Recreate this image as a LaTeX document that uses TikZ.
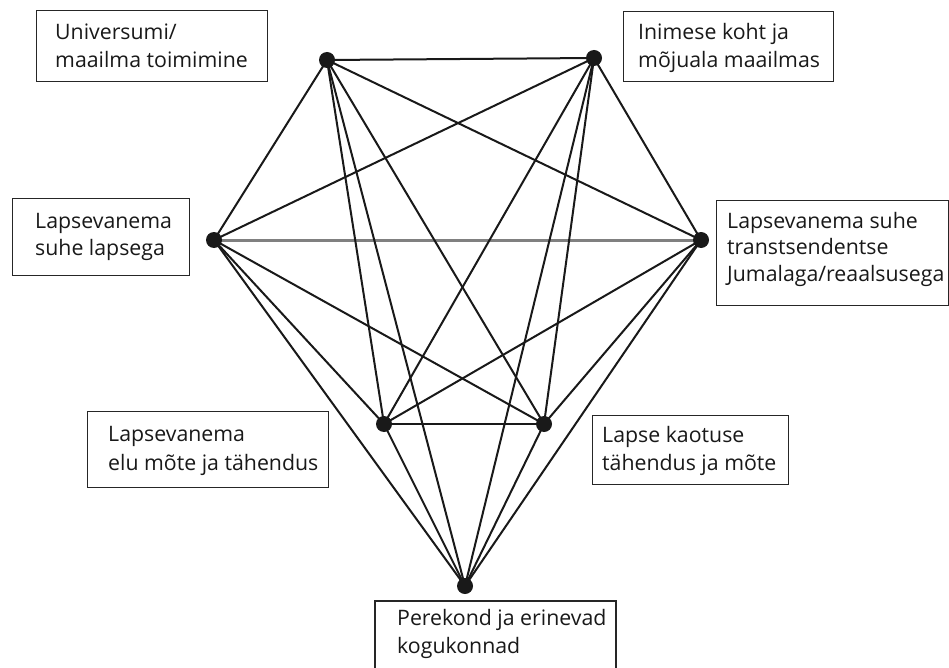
\documentclass[tikz,border=0pt]{standalone}
\usepackage{fontspec}
\setmainfont{Open Sans}
\begin{document}
\begin{tikzpicture}[x=1pt,y=-1pt,
  edge/.style={line width=2pt,black!90},
  grayedge/.style={line width=3pt,black!50},
  dot/.style={circle,fill=black!90,inner sep=0pt,minimum size=16pt},
  boxline/.style={line width=1.4pt,black!85},
  lbl/.style={anchor=base west,align=left,inner sep=0pt,text=black!90,
    font=\fontsize{21.3}{28}\selectfont}]
\useasboundingbox (0,0) rectangle (949,668);
\fill[white] (0,0) rectangle (949,668);
% dot positions
\coordinate (pU) at (327,60);
\coordinate (pI) at (594,58);
\coordinate (pL) at (214,240);
\coordinate (pR) at (701,240);
\coordinate (pE) at (384,424);
\coordinate (pK) at (544,424);
\coordinate (pP) at (465,586);
% boxes
\node[boxline,draw,anchor=north west,minimum width=231pt,minimum height=71pt,inner sep=0pt] (b1) at (36,10) {};
\node[boxline,draw,anchor=north west,minimum width=210pt,minimum height=70pt,inner sep=0pt] (b2) at (623,11) {};
\node[boxline,draw,anchor=north west,minimum width=232pt,minimum height=105pt,inner sep=0pt] (b3) at (716,200) {};
\node[boxline,draw,anchor=north west,minimum width=177pt,minimum height=77pt,inner sep=0pt] (b4) at (12,198) {};
\node[boxline,draw,anchor=north west,minimum width=241pt,minimum height=76pt,inner sep=0pt] (b5) at (87,411) {};
\node[boxline,draw,anchor=north west,minimum width=196pt,minimum height=69pt,inner sep=0pt] (b6) at (592,415) {};
\coordinate (b7a) at (375,668);
\coordinate (b7b) at (616,668);
\draw[boxline] (b7a) -- (375,601) -- (616,601) -- (b7b);
% labels (anchor = baseline of last line)
\node[lbl] (t1) at (55,68) {Universumi/\\maailma toimimine};
\node[lbl] (t2) at (638,68) {Inimese koht ja\\mõjuala maailmas};
\node[lbl,font=\fontsize{21.3}{26.5}\selectfont] (t3) at (727,281) {Lapsevanema suhe\\transtsendentse\\Jumalaga/reaalsusega};
\node[lbl,font=\fontsize{21.3}{27}\selectfont] (t4) at (35,255) {Lapsevanema\\suhe lapsega};
\node[lbl,font=\fontsize{21.3}{29}\selectfont] (t5) at (108,470) {Lapsevanema\\elu mõte ja tähendus};
\node[lbl] (t6) at (602,470) {Lapse kaotuse\\tähendus ja mõte};
\node[lbl] (t7) at (397,653) {Perekond ja erinevad\\kogukonnad};
% edges
\draw[grayedge] (pL) -- (pR);
\foreach \a/\b in {pU/pI,pU/pL,pU/pR,pU/pE,pU/pK,pU/pP,
                   pI/pL,pI/pR,pI/pE,pI/pK,pI/pP,
                   pL/pE,pL/pK,pL/pP,
                   pR/pE,pR/pK,pR/pP,
                   pE/pK,pE/pP,pK/pP}
  \draw[edge] (\a) -- (\b);
% dots
\node[dot] (U) at (pU) {};
\node[dot] (I) at (pI) {};
\node[dot] (L) at (pL) {};
\node[dot] (R) at (pR) {};
\node[dot] (E) at (pE) {};
\node[dot] (K) at (pK) {};
\node[dot] (P) at (pP) {};
\end{tikzpicture}
\end{document}
